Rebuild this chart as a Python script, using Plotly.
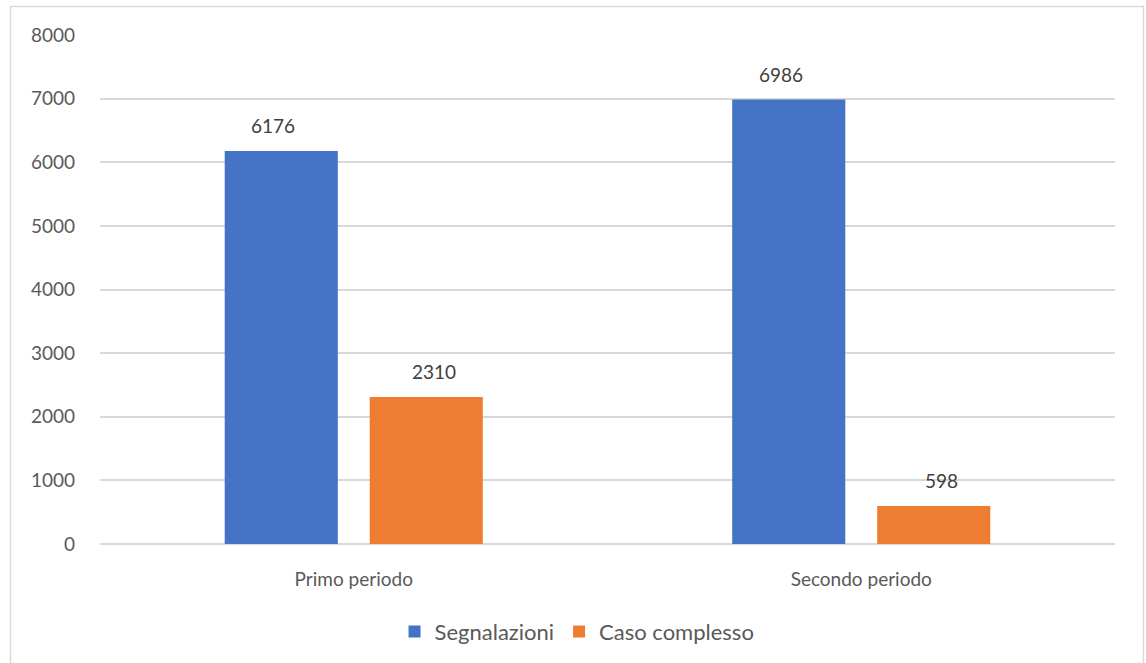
import plotly.graph_objects as go

categories = ["Primo periodo", "Secondo periodo"]
segnalazioni = [6176, 6986]
caso_complesso = [2310, 598]
y_ticks = [0, 1000, 2000, 3000, 4000, 5000, 6000, 7000, 8000]

FONT = "Lato"
SIZE = 19
fig = go.Figure()
fig.add_trace(go.Bar(
    x=categories, y=segnalazioni, name="Segnalazioni",
    marker=dict(color="#4472C4", line=dict(width=0)),
))
fig.add_trace(go.Bar(
    x=categories, y=caso_complesso, name="Caso complesso",
    marker=dict(color="#ED7D31", line=dict(width=0)),
))

annotations = []
for series, shift in ((segnalazioni, -80.5), (caso_complesso, 80.5)):
    for cat, v in zip(categories, series):
        annotations.append(dict(x=cat, y=v, xref="x", yref="y", text=str(v),
                                showarrow=False, xshift=shift, yshift=12, yanchor="bottom",
                                font=dict(color="#404040", size=SIZE, family=FONT)))

fig.update_layout(
    width=1146, height=663,
    margin=dict(l=100, r=31, t=35, b=118),
    paper_bgcolor="white", plot_bgcolor="white",
    barmode="group", bargap=0.4286, bargroupgap=0.22,
    font=dict(family=FONT, color="#595959", size=SIZE),
    showlegend=True,
    legend=dict(orientation="h", x=0.47, xanchor="center", y=-0.17, yanchor="middle",
                font=dict(size=22, color="#595959", family=FONT), itemwidth=30,
                traceorder="normal"),
    xaxis=dict(showgrid=False, showline=False, ticks="", ticklabelstandoff=22,
               tickfont=dict(size=SIZE, color="#595959")),
    yaxis=dict(range=[0, 8000], tickvals=y_ticks, showgrid=True, gridcolor="#d9d9d9",
               gridwidth=1.5, zeroline=True, zerolinecolor="#d9d9d9", zerolinewidth=1.5,
               showline=False, ticks="", ticklabelstandoff=24,
               tickfont=dict(size=SIZE, color="#595959")),
    annotations=annotations,
    shapes=[dict(type="rect", xref="paper", yref="paper",
                 x0=(10.5 - 100) / 1015, x1=(1143.5 - 100) / 1015,
                 y0=(545 - 700) / 510, y1=(545 - 6.5) / 510,
                 line=dict(color="#d9d9d9", width=1.5), fillcolor="rgba(0,0,0,0)", layer="below")],
)
fig.write_html("out.html")
